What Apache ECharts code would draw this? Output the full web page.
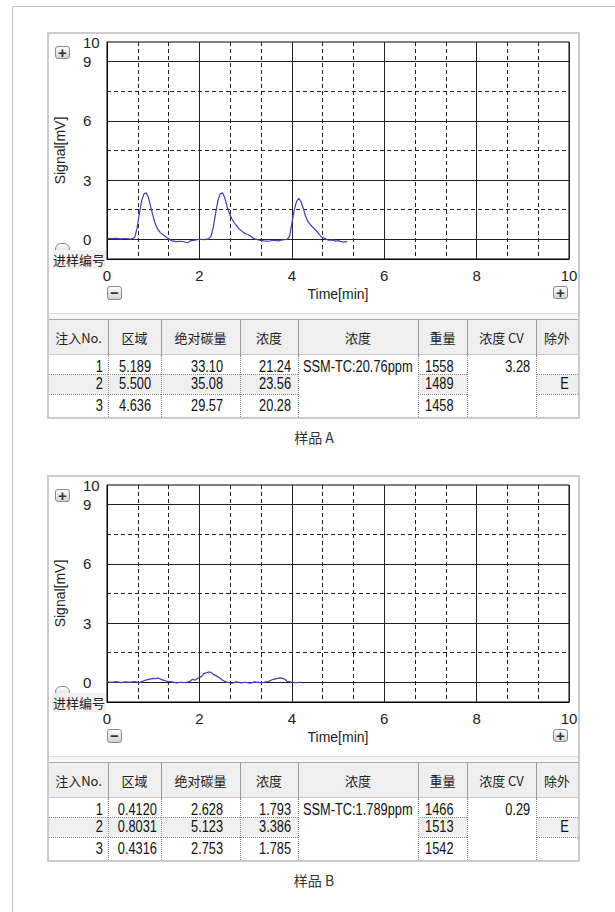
<!DOCTYPE html>
<html>
<head>
<meta charset="utf-8">
<script src="https://cdn.jsdelivr.net/npm/echarts@6/dist/echarts.min.js"></script>
<style>
  html, body { margin: 0; padding: 0; background: #fff; }
  #page { position: relative; width: 615px; height: 912px; overflow: hidden; background: #fff; }
  .abs { position: absolute; box-sizing: border-box; }
  .frame { border: 1px solid #c4c4c4; }
  .panel { border: 2px solid #cbcbcb; background: #fff; }
  .btn { border: 1px solid #8a8a8a; border-radius: 3px; background: linear-gradient(#fdfdfd, #d3d3d3);
         font: bold 15px "Liberation Sans", sans-serif; color: #333; text-align: center; line-height: 11px; }
  .cjk { font-family: "Noto Sans CJK SC", sans-serif; }
  .num { font-family: "Liberation Sans", sans-serif; font-size: 16px; color: #111; white-space: nowrap; }
  .num span { display: inline-block; transform: scaleX(0.8); }
  .r span { transform-origin: right center; }
  .l span { transform-origin: left center; }
  .hdr { font-family: "Noto Sans CJK SC", sans-serif; font-size: 13px; color: #222; text-align: center; white-space: nowrap; }
  .cap { font-family: "Noto Sans CJK SC", sans-serif; font-size: 14px; color: #333; text-align: center; }
</style>
</head>
<body>
<div id="page">
  <div class="abs frame" style="left:12px;top:6px;width:640px;height:940px;"></div>
  <div id="chart" class="abs" style="left:0;top:0;width:615px;height:912px;z-index:2;"></div>
</div>
<script>
// ---------------- data ----------------
const timesA  = [0.00,0.10,0.20,0.30,0.40,0.50,0.55,0.60,0.65,0.70,0.75,0.80,0.85,0.90,0.95,1.00,1.05,1.10,1.15,1.20,1.30,1.35,1.40,1.50,1.60,1.70,1.75,1.80,1.90,2.00,2.10,2.20,2.25,2.30,2.35,2.40,2.45,2.50,2.55,2.60,2.65,2.70,2.75,2.80,2.85,2.90,2.95,3.00,3.05,3.10,3.15,3.20,3.30,3.40,3.50,3.60,3.70,3.80,3.90,3.95,4.00,4.05,4.10,4.15,4.20,4.25,4.30,4.35,4.40,4.45,4.50,4.55,4.60,4.65,4.70,4.80,4.90,4.95,5.00,5.10,5.20];
const signalA = [0.05,0.03,0.05,0.02,0.04,0.01,0.03,0.10,0.55,1.30,1.95,2.30,2.35,2.10,1.60,1.15,0.75,0.50,0.35,0.25,0.08,0.00,-0.08,-0.12,-0.10,-0.15,-0.17,-0.08,-0.04,0.00,-0.02,0.02,0.15,0.60,1.30,1.95,2.30,2.35,2.10,1.65,1.30,1.05,0.85,0.70,0.55,0.45,0.36,0.28,0.24,0.18,0.08,0.02,-0.05,-0.08,-0.10,-0.05,-0.08,-0.03,0.00,0.15,0.80,1.45,1.90,2.08,1.90,1.55,1.15,0.90,0.75,0.62,0.50,0.38,0.22,0.10,0.05,-0.05,-0.03,-0.10,-0.07,-0.14,-0.12];

const timesB  = [0.00,0.10,0.20,0.30,0.40,0.50,0.60,0.70,0.80,0.90,1.00,1.05,1.10,1.20,1.30,1.40,1.50,1.60,1.70,1.80,1.85,1.90,2.00,2.05,2.10,2.15,2.20,2.25,2.30,2.35,2.40,2.45,2.50,2.60,2.70,2.80,2.90,3.00,3.10,3.20,3.30,3.40,3.50,3.60,3.70,3.75,3.80,3.85,3.90,4.00,4.10,4.20];
const signalB = [0.02,0.00,0.03,-0.02,0.02,0.00,0.03,-0.02,0.08,0.15,0.20,0.18,0.22,0.12,0.05,0.02,-0.03,0.00,-0.02,0.05,0.15,0.10,0.25,0.30,0.45,0.48,0.52,0.50,0.40,0.35,0.28,0.20,0.10,0.00,-0.05,0.02,-0.03,0.00,-0.04,0.02,-0.02,0.00,0.05,0.15,0.20,0.22,0.20,0.15,0.05,0.00,-0.02,0.00];

const xTickInterval = 2;
const yLabelValues = [0, 3, 6, 9, 10];
const yMajorLines  = [0, 3, 6, 9];
const yMinorLines  = [1.5, 4.5, 7.5];

const tableHeaders = ['注入No.', '区域', '绝对碳量', '浓度', '浓度', '重量', '浓度 CV', '除外'];
const injectionNo  = ['1', '2', '3'];

const areaA    = ['5.189', '5.500', '4.636'];
const carbonA  = ['33.10', '35.08', '29.57'];
const concA    = ['21.24', '23.56', '20.28'];
const meanA    = 'SSM-TC:20.76ppm';
const weightA  = ['1558', '1489', '1458'];
const cvA      = '3.28';
const exclA    = ['', 'E', ''];

const areaB    = ['0.4120', '0.8031', '0.4316'];
const carbonB  = ['2.628', '5.123', '2.753'];
const concB    = ['1.793', '3.386', '1.785'];
const meanB    = 'SSM-TC:1.789ppm';
const weightB  = ['1466', '1513', '1542'];
const cvB      = '0.29';
const exclB    = ['', 'E', ''];

const captions = ['样品 A', '样品 B'];

// ---------------- layout ----------------
const page = document.getElementById('page');
const OFF = 443;
function el(cls, style, text, wrap) {
  const d = document.createElement('div');
  d.className = 'abs ' + cls;
  d.setAttribute('style', style);
  if (text !== undefined) {
    if (wrap) { const s = document.createElement('span'); s.textContent = text; d.appendChild(s); }
    else d.textContent = text;
  }
  page.appendChild(d);
  return d;
}

const colX = [49, 108, 161, 240, 298, 418, 467, 536, 578];
const padR = [5, 10, 17, 7, 0, 20, 6, 9];
const rowY = [355, 374, 394, 416];
const rowTextC = [367, 384, 406];

function buildPanel(k, d) {
  const o = k * OFF;
  el('panel', `left:47px;top:${32 + o}px;width:533px;height:387px;z-index:0;`);
  el('', `left:49px;top:${313 + o}px;width:529px;height:6px;background:#f7f7f7;border-top:1px solid #dedede;z-index:1;`);
  el('', `left:49px;top:${319 + o}px;width:529px;height:36px;background:#efefef;border-top:1px solid #a9a9a9;border-bottom:1px solid #c9c9c9;z-index:3;`);
  for (let c = 0; c < 8; c++) {
    if (c > 0) el('', `left:${colX[c]}px;top:${319 + o}px;width:1px;height:36px;background:#9a9a9a;z-index:4;`);
    el('hdr', `left:${colX[c]}px;top:${329 + o}px;width:${colX[c+1]-colX[c]}px;height:18px;line-height:18px;z-index:4;`, tableHeaders[c]);
  }
  [0, 1, 2, 3, 5, 7].forEach(c => el('', `left:${colX[c]}px;top:${rowY[1] + o}px;width:${colX[c+1]-colX[c]}px;height:${rowY[2]-rowY[1]}px;background:#efefef;z-index:3;`));
  for (let c = 1; c < 8; c++) {
    el('', `left:${colX[c]}px;top:${355 + o}px;width:0;height:62px;border-left:1px dotted #8a8a8a;z-index:4;`);
  }
  [1, 2].forEach(r => {
    [0, 1, 2, 3, 5, 7].forEach(c => {
      el('', `left:${colX[c]}px;top:${rowY[r] + o}px;width:${colX[c+1]-colX[c]}px;height:0;border-top:1px dotted #8a8a8a;z-index:4;`);
    });
  });
  const cols = [injectionNo, d.area, d.carbon, d.conc, null, d.weight, null, d.excl];
  for (let r = 0; r < 3; r++) {
    for (let c = 0; c < 8; c++) {
      if (!cols[c] || cols[c][r] === '') continue;
      const w = colX[c+1] - colX[c];
      el('num r', `left:${colX[c]}px;top:${rowTextC[r] - 9 + o}px;width:${w}px;height:18px;line-height:18px;text-align:right;padding-right:${padR[c]}px;z-index:5;`, cols[c][r], true);
    }
  }
  el('num l', `left:${colX[4]}px;top:${rowTextC[0] - 9 + o}px;width:120px;height:18px;line-height:18px;text-align:left;padding-left:5px;z-index:5;`, d.mean, true);
  el('num r', `left:${colX[6]}px;top:${rowTextC[0] - 9 + o}px;width:69px;height:18px;line-height:18px;text-align:right;padding-right:${padR[6]}px;z-index:5;`, d.cv, true);
  el('btn', `left:55px;top:${46 + o}px;width:15px;height:13px;z-index:6;`, '+');
  el('btn', `left:107px;top:${286 + o}px;width:15px;height:14px;line-height:12px;z-index:6;`, '−');
  el('btn', `left:553px;top:${286 + o}px;width:15px;height:13px;z-index:6;`, '+');
  el('btn', `left:55px;top:${243 + o}px;width:15px;height:12px;z-index:5;border-radius:6px;`, '');
  el('cjk', `left:52px;top:${250 + o}px;width:54px;height:19px;line-height:19px;background:#f1f1f1;font-size:13px;color:#222;text-align:center;z-index:6;white-space:nowrap;`, '进样编号');
  el('cap', `left:0;top:${427 + o}px;width:628px;height:20px;line-height:20px;z-index:5;`, captions[k]);
}
buildPanel(0, {area: areaA, carbon: carbonA, conc: concA, mean: meanA, weight: weightA, cv: cvA, excl: exclA});
buildPanel(1, {area: areaB, carbon: carbonB, conc: concB, mean: meanB, weight: weightB, cv: cvB, excl: exclB});

// ---------------- chart ----------------
const chart = echarts.init(document.getElementById('chart'), null, {renderer: 'svg'});
const labelFont = {fontFamily: '"Liberation Sans", sans-serif', fontSize: 15, color: '#222'};
const nameFont = {fontFamily: '"Liberation Sans", sans-serif', fontSize: 14, color: '#222'};
const gridTops = [42, 485];

function xAx(i) {
  return {
    gridIndex: i, type: 'value', min: 0, max: 10, interval: xTickInterval,
    axisLine: {onZero: false, lineStyle: {color: '#000', width: 1}},
    axisTick: {show: false},
    axisLabel: Object.assign({margin: 9}, labelFont),
    splitLine: {show: true, lineStyle: {color: '#222', width: 1}},
    minorTick: {show: false, splitNumber: 3},
    minorSplitLine: {show: true, lineStyle: {color: '#222', width: 1, type: [4, 3]}},
    name: 'Time[min]', nameLocation: 'middle', nameGap: 28, nameTextStyle: nameFont
  };
}
function yAxMajor(i) {
  return {
    gridIndex: i, type: 'value', min: -1, max: 10, position: 'left',
    axisLine: {show: true, lineStyle: {color: '#000', width: 1}},
    axisTick: {show: false, customValues: yMajorLines},
    axisLabel: Object.assign({customValues: yLabelValues, align: 'left', margin: 24}, labelFont),
    splitLine: {show: true, lineStyle: {color: '#222', width: 1}},
    name: 'Signal[mV]', nameLocation: 'middle', nameGap: 40, nameRotate: 90, nameTextStyle: nameFont
  };
}
function yAxMinor(i) {
  return {
    gridIndex: i, type: 'value', min: -1, max: 10, position: 'left',
    axisLine: {show: false}, axisTick: {show: false, customValues: yMinorLines},
    axisLabel: {show: false, customValues: yMinorLines},
    splitLine: {show: true, lineStyle: {color: '#222', width: 1, type: [4, 3]}}
  };
}
function pairs(xs, ys) { return xs.map((x, j) => [x, ys[j]]); }

chart.setOption({
  animation: false,
  grid: gridTops.map(t => ({left: 107, top: t, width: 462, height: 217, show: true, borderColor: '#000', borderWidth: 1, backgroundColor: '#fff', containLabel: false})),
  xAxis: [xAx(0), xAx(1)],
  yAxis: [yAxMajor(0), yAxMinor(0), yAxMajor(1), yAxMinor(1)],
  series: [
    {type: 'line', xAxisIndex: 0, yAxisIndex: 0, data: pairs(timesA, signalA), symbol: 'none', lineStyle: {color: '#3c3cae', width: 1.2}, z: 5},
    {type: 'line', xAxisIndex: 1, yAxisIndex: 2, data: pairs(timesB, signalB), symbol: 'none', lineStyle: {color: '#3c3cae', width: 1.2}, z: 5}
  ]
});
</script>
</body>
</html>
